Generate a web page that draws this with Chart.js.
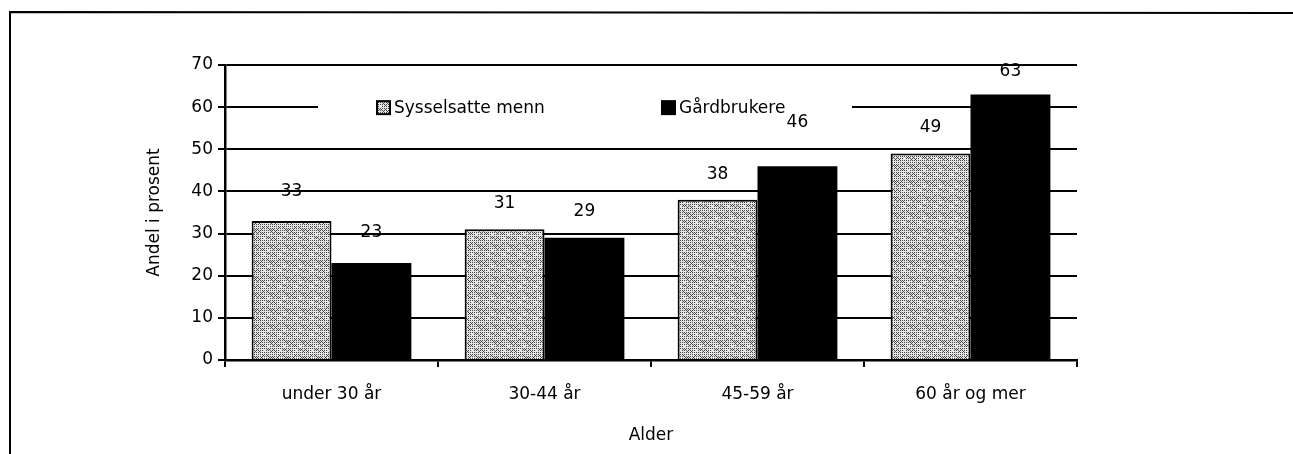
<!DOCTYPE html>
<html lang="no">
<head>
<meta charset="utf-8">
<title>Andel i prosent etter alder</title>
<script src="https://cdn.jsdelivr.net/npm/chart.js@4/dist/chart.umd.min.js"></script>
<style>
    html, body { margin: 0; padding: 0; background: #fff; }
    #wrap { width: 1293px; height: 454px; }
</style>
</head>
<body>
<div id="wrap"><canvas id="alderChart" width="1293" height="454"></canvas></div>
<script>
// Aldersgrupper og andeler (prosent)
const categories = ["under 30 år", "30-44 år", "45-59 år", "60 år og mer"];
const seriesNames = ["Sysselsatte menn", "Gårdbrukere"];
const sysselsatte = [33, 31, 38, 49];
const gardbrukere = [23, 29, 46, 63];
const yMax = 70;
const yStep = 10;

// how far each value label sits above its bar (px)
const labelLift = [
    [29, 26, 25, 26],
    [30, 26, 44, 23]
];

const FONT = "'DejaVu Sans', 'Open Sans', sans-serif";
const FONT_SIZE = 17;

// Stippled grey fill: ordered dither with a fixed hash to break up the grid
function makeStipple() {
    const bayer = [
        [0, 8, 2, 10],
        [12, 4, 14, 6],
        [3, 11, 1, 9],
        [15, 7, 13, 5]
    ];
    const n = 16;
    const tile = document.createElement("canvas");
    tile.width = n;
    tile.height = n;
    const tctx = tile.getContext("2d");
    const img = tctx.createImageData(n, n);
    for (let y = 0; y < n; y++) {
        for (let x = 0; x < n; x++) {
            const h = ((x * 7 + y * 13 + x * y * 3) % 5) - 2;
            const v = bayer[y % 4][x % 4] + h;
            const c = v < 5 ? 70 : 228;
            const i = (y * n + x) * 4;
            img.data[i] = img.data[i + 1] = img.data[i + 2] = c;
            img.data[i + 3] = 255;
        }
    }
    tctx.putImageData(img, 0, 0);
    return tctx.createPattern(tile, "repeat");
}

const stipple = makeStipple();

// Thin page frame along the top and left edge
const framePlugin = {
    id: "frame",
    beforeDraw(chart) {
        const ctx = chart.ctx;
        ctx.save();
        ctx.fillStyle = "#fff";
        ctx.fillRect(0, 0, chart.width, chart.height);
        ctx.strokeStyle = "#000";
        ctx.lineWidth = 2;
        ctx.beginPath();
        ctx.moveTo(10, chart.height);
        ctx.lineTo(10, 12);
        ctx.lineTo(chart.width, 13);
        ctx.stroke();
        ctx.restore();
    }
};

// Legend box sitting on top of the 60 gridline
const insideLegend = {
    id: "insideLegend",
    afterDatasetsDraw(chart) {
        const ctx = chart.ctx;
        const y = chart.scales.y.getPixelForValue(60);
        const sets = chart.data.datasets;
        ctx.save();
        ctx.fillStyle = "#fff";
        ctx.fillRect(318, y - 14, 534, 28);
        ctx.font = FONT_SIZE + "px " + FONT;
        ctx.textBaseline = "middle";
        ctx.textAlign = "left";
        const xs = [377, 662];
        sets.forEach((ds, i) => {
            ctx.fillStyle = ds.backgroundColor;
            ctx.fillRect(xs[i], y - 6, 13, 13);
            ctx.strokeStyle = "#000";
            ctx.lineWidth = 2;
            ctx.strokeRect(xs[i], y - 6, 13, 13);
            ctx.fillStyle = "#000";
            ctx.fillText(ds.label, xs[i] + 17, y + 1);
        });
        ctx.restore();
    }
};

// Value labels above each bar
const valueLabels = {
    id: "valueLabels",
    afterDatasetsDraw(chart) {
        const ctx = chart.ctx;
        ctx.save();
        ctx.font = FONT_SIZE + "px " + FONT;
        ctx.fillStyle = "#000";
        ctx.textAlign = "center";
        ctx.textBaseline = "middle";
        chart.data.datasets.forEach((ds, di) => {
            const meta = chart.getDatasetMeta(di);
            meta.data.forEach((bar, i) => {
                ctx.fillText(String(ds.data[i]), bar.x, bar.y - labelLift[di][i]);
            });
        });
        ctx.restore();
    }
};

const ctx = document.getElementById("alderChart").getContext("2d");
new Chart(ctx, {
    type: "bar",
    data: {
        labels: categories,
        datasets: [
            {
                label: seriesNames[0],
                data: sysselsatte,
                backgroundColor: stipple,
                borderColor: "#000",
                borderWidth: 2
            },
            {
                label: seriesNames[1],
                data: gardbrukere,
                backgroundColor: "#000",
                borderColor: "#000",
                borderWidth: 0
            }
        ]
    },
    options: {
        responsive: false,
        animation: false,
        events: [],
        layout: {
            padding: { left: 144, top: 65, right: 216, bottom: 8 }
        },
        datasets: {
            bar: { categoryPercentage: 0.75, barPercentage: 1.0 }
        },
        plugins: {
            legend: { display: false },
            tooltip: { enabled: false }
        },
        scales: {
            x: {
                afterFit(scale) { scale.height = 86; },
                grid: {
                    offset: true,
                    drawOnChartArea: false,
                    drawTicks: true,
                    tickLength: 7,
                    color: "#000",
                    lineWidth: 2
                },
                border: { display: true, color: "#000", width: 2.5 },
                ticks: {
                    color: "#000",
                    padding: 17,
                    font: { family: FONT, size: FONT_SIZE }
                },
                title: {
                    display: true,
                    text: "Alder",
                    color: "#000",
                    padding: 0,
                    font: { family: FONT, size: FONT_SIZE }
                }
            },
            y: {
                min: 0,
                max: yMax,
                afterFit(scale) { scale.width = 81; },
                grid: {
                    drawTicks: true,
                    tickLength: 7,
                    color: "#000",
                    lineWidth: 2
                },
                border: { display: true, color: "#000", width: 2.5 },
                ticks: {
                    stepSize: yStep,
                    color: "#000",
                    padding: 5,
                    font: { family: FONT, size: FONT_SIZE }
                },
                title: {
                    display: true,
                    text: "Andel i prosent",
                    color: "#000",
                    padding: 0,
                    font: { family: FONT, size: FONT_SIZE }
                }
            }
        }
    },
    plugins: [framePlugin, insideLegend, valueLabels]
});
</script>
</body>
</html>
